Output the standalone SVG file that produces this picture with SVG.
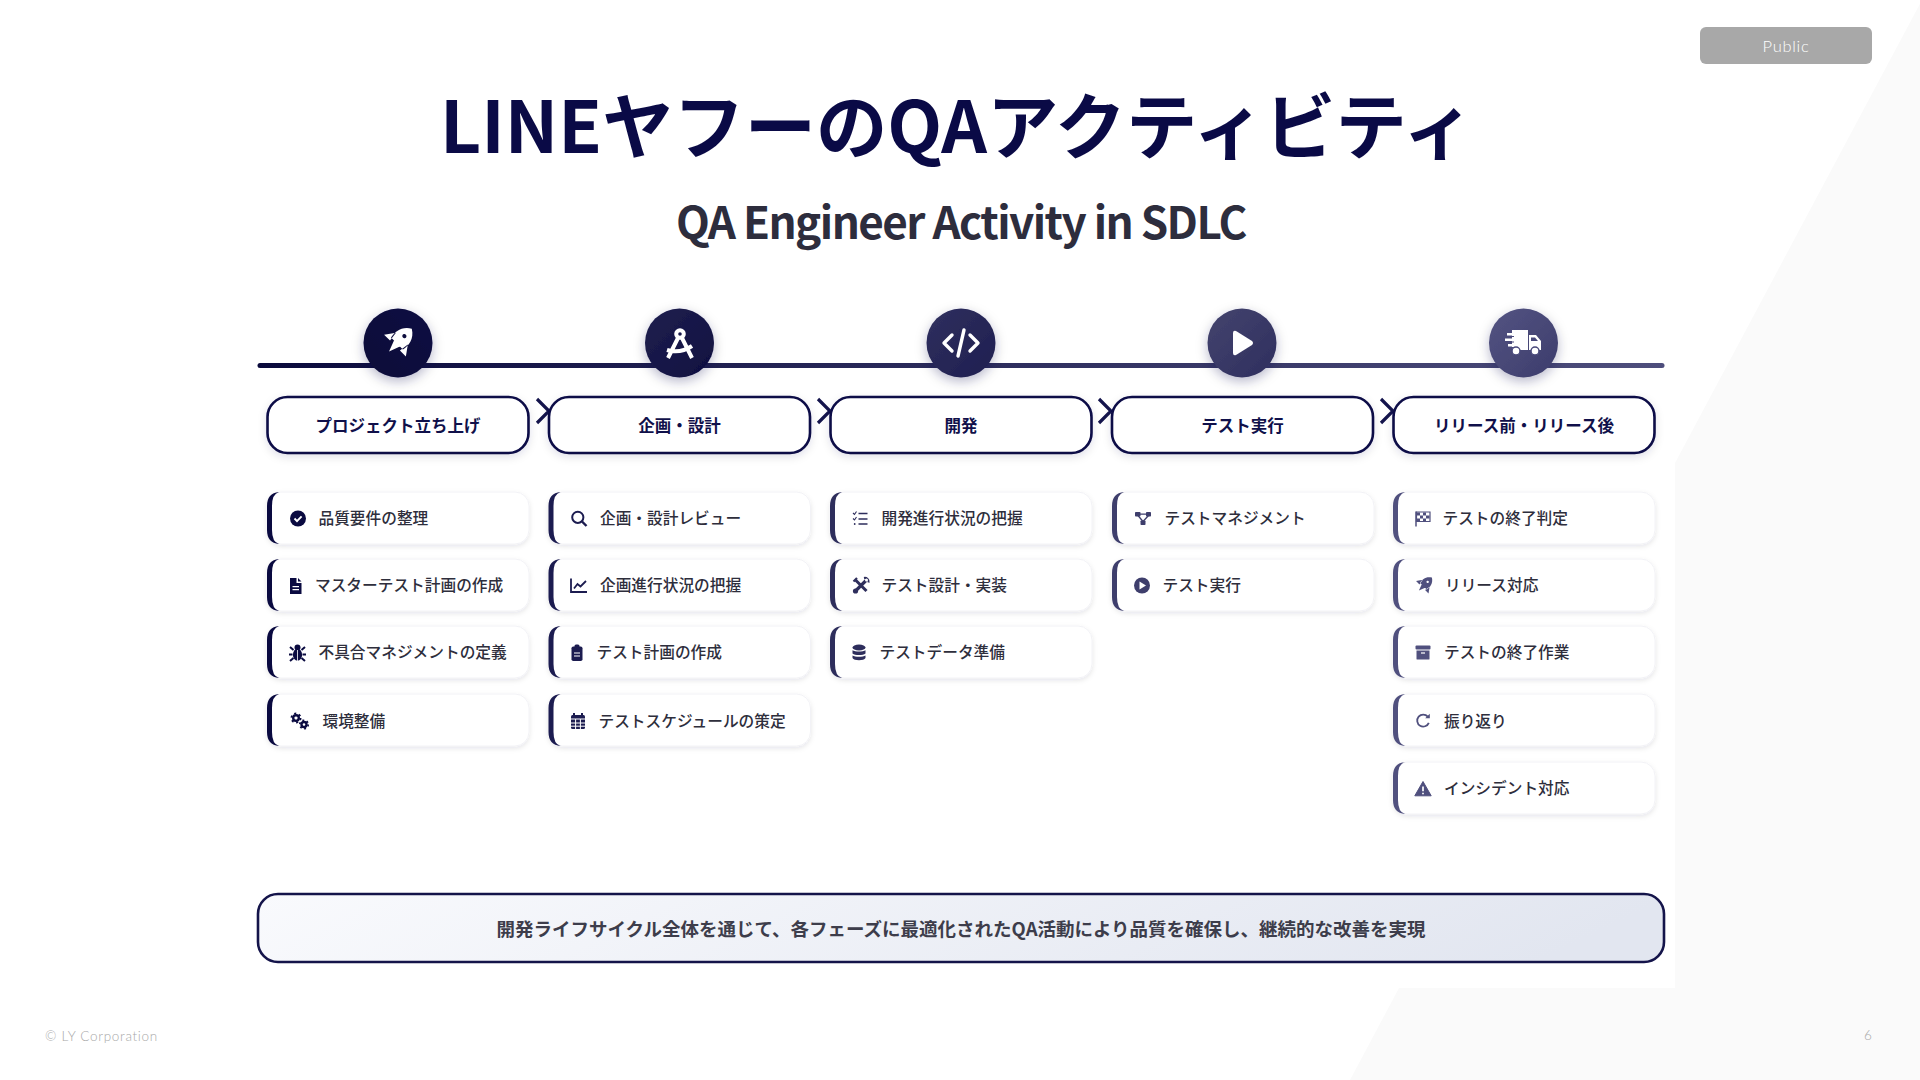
<svg xmlns="http://www.w3.org/2000/svg" width="1920" height="1080" viewBox="0 0 1920 1080">
<style>
text{font-family:"Noto Sans CJK JP","Noto Sans",sans-serif}
.title{font-size:71.300px;font-weight:700;fill:#0a0a46;text-anchor:middle}
.sub{font-size:44px;font-weight:700;fill:#2d2d3d;text-anchor:middle;letter-spacing:-1.550px}
.hd{fill:#fff;stroke:#0a0a46;stroke-width:2.600;filter:url(#sh)}
.hdt{font-size:16.500px;font-weight:700;fill:#10104a;text-anchor:middle}
.card{fill:#fff;stroke:#f2f2f6;stroke-width:1;filter:url(#sh2)}
.it{font-size:15.700px;font-weight:500;fill:#2e2e3c}
.chev{fill:none;stroke:#14144c;stroke-width:3.200}
.c1{color:#0a0a40}.c2{color:#1c1c50}.c3{color:#2e2e5c}.c4{color:#3e3e6c}.c5{color:#50507e}
.circ{filter:url(#sh3)}
.bg{fill:#fafafa}
.foot{font-family:"Lato","Noto Sans",sans-serif;font-size:13.500px;font-weight:300;fill:#a8a8a8;letter-spacing:.7px}
</style>
<defs>
<linearGradient id="ln" gradientUnits="userSpaceOnUse" x1="258" x2="1664" y1="0" y2="0"><stop offset="0" stop-color="#0a0a3c"/><stop offset="1" stop-color="#4e4e7c"/></linearGradient>
<linearGradient id="g1" x1="0" y1="1" x2="1" y2="0"><stop offset="0" stop-color="#0a0a38"/><stop offset="1" stop-color="#0c0c42"/></linearGradient>
<linearGradient id="g2" x1="0" y1="0" x2="1" y2="1"><stop offset="0" stop-color="#20204f"/><stop offset="1" stop-color="#0e0e40"/></linearGradient>
<linearGradient id="g3" x1="0" y1="0" x2="1" y2="1"><stop offset="0" stop-color="#30305e"/><stop offset="1" stop-color="#1e1e50"/></linearGradient>
<linearGradient id="g4" x1="0" y1="0" x2="1" y2="1"><stop offset="0" stop-color="#44446e"/><stop offset="1" stop-color="#2e2e5e"/></linearGradient>
<linearGradient id="g5" x1="0" y1="0" x2="1" y2="1"><stop offset="0" stop-color="#545482"/><stop offset="1" stop-color="#3c3c6c"/></linearGradient>
<linearGradient id="sm" x1="0" y1="0" x2="1" y2="0.1"><stop offset="0" stop-color="#f9fafd"/><stop offset="1" stop-color="#e2e6f0"/></linearGradient>
<filter id="sh" x="-10%" y="-30%" width="120%" height="170%"><feDropShadow dx="0" dy="3" stdDeviation="4" flood-color="#0a0a46" flood-opacity=".12"/></filter>
<filter id="sh2" x="-10%" y="-30%" width="120%" height="170%"><feDropShadow dx="0" dy="2" stdDeviation="2.500" flood-color="#20203c" flood-opacity=".1"/></filter>
<filter id="sh3" x="-40%" y="-40%" width="180%" height="190%"><feDropShadow dx="0" dy="4" stdDeviation="6" flood-color="#0a0a46" flood-opacity=".28"/></filter>
<path id="bar" fill="currentColor" d="M12 0Q0 1 0 14V38Q0 51 12 52Q5 50 5 38V14Q5 2 12 0Z"/>
<g id="i-rocket" fill="currentColor"><path transform="translate(1.100 -1.100) rotate(45) scale(.8)" fill-rule="evenodd" d="M0-12C6.500-8 7-2 6 3H-6C-7-2-6.500-8 0-12ZM0-6a1.500 1.500 0 1 0 .01 0ZM-6-2L-11 5-5 5ZM6-2L11 5 5 5ZM-3 3H3L0 11Z"/></g>
<g id="i-check"><circle r="8" fill="currentColor"/><path d="M-3.500 0L-1 2.600 3.600-2.200" fill="none" stroke="#fff" stroke-width="1.900"/></g>
<g id="i-search" fill="none" stroke="currentColor" stroke-width="2"><circle cx="-1.200" cy="-1.200" r="5.600"/><path d="M3 3L7.500 7.500" stroke-width="2.400"/></g>
<path id="i-doc" fill="currentColor" fill-rule="evenodd" d="M-6-8H0.500L0.500-3H5.500V8H-6ZM2-8L5.500-4.500H2ZM-3.500 0V1.300H3V0ZM-3.500 3V4.300H3V3Z"/>
<g id="i-chart" fill="none" stroke="currentColor" stroke-width="1.800"><path d="M-8-7V6.500H8"/><path d="M-5 3L-1.500-1.500 1.500 1 7-4.500"/></g>
<g id="i-bug" fill="currentColor"><ellipse cy="1.800" rx="4.600" ry="6"/><circle cy="-5.500" r="3"/><path d="M-4-3L-7.500-6M4-3L7.500-6M-5 1.500H-8.500M5 1.500H8.500M-4 5L-7.500 8M4 5L7.500 8" stroke="currentColor" stroke-width="2" fill="none"/><path d="M0-3V8" stroke="#fff" stroke-width=".8"/></g>
<g id="i-clip"><rect x="-5.500" y="-6.500" width="11" height="14.500" rx="1.800" fill="currentColor"/><rect x="-2.500" y="-8.500" width="5" height="4" rx="1.500" fill="currentColor"/><path d="M-3 0H3M-3 3H3" stroke="#fff" stroke-width="1.100"/></g>
<g id="i-cal"><rect x="-7" y="-6" width="14" height="14" rx="1.500" fill="currentColor"/><path d="M-4-8V-4M4-8V-4" stroke="currentColor" stroke-width="2"/><path d="M-7-2H7M-7 2H7M-7 5.200H7M-2.400-2V8M2.400-2V8" stroke="#fff" stroke-width="1"/></g>
<g id="i-gears" fill="none" stroke="currentColor"><g transform="translate(-3.500 -3)"><circle r="2.800" stroke-width="2.400"/><circle r="4.600" stroke-width="1.800" stroke-dasharray="2.100 2.720"/></g><g transform="translate(4.500 3.500)"><circle r="2.500" stroke-width="2.400"/><circle r="4.200" stroke-width="1.700" stroke-dasharray="1.900 2.500"/></g></g>
<g id="i-list" fill="none" stroke="currentColor"><path d="M-2 -5H7M-2 0.500H7M-2 5.500H7" stroke-width="1.600"/><path d="M-7.500-5.500L-6-4-4-7M-7.500 0L-6 1.500-4-1.500" stroke-width="1.100"/><circle cx="-5.800" cy="5.500" r=".9" fill="currentColor" stroke="none"/></g>
<g id="i-tools" stroke="currentColor" fill="none"><path d="M-5.500-5.500L5.500 5.500" stroke-width="3"/><path d="M5-5L-5 5" stroke-width="3.200"/><path d="M-7.500-4L-4-7.500M3-7.500A3.800 3.800 0 0 1 7.500-3" stroke-width="2.200"/><circle cx="-5.500" cy="5.500" r="2.600" fill="currentColor" stroke="none"/><circle cx="5.500" cy="-5.500" r="1.500" fill="#fff" stroke="none"/></g>
<g id="i-db" fill="currentColor"><ellipse cy="-5" rx="6.500" ry="3"/><path d="M-6.500-2.200C-4-.5 4-.5 6.500-2.200V1C4 3 -4 3 -6.500 1ZM-6.500 3C-4 4.800 4 4.800 6.500 3V5.500C5 8.500 -5 8.500 -6.500 5.500Z"/></g>
<g id="i-net" fill="currentColor"><rect x="-8" y="-6.500" width="5.500" height="4.500" rx=".8"/><rect x="3" y="-6.500" width="5" height="4.500" rx=".8"/><rect x="-2.500" y="2" width="5" height="4.500" rx=".8"/><path d="M-3-4.300H4M-5-3L0 3M5.500-3L0 3" stroke="currentColor" stroke-width="1.300" fill="none"/></g>
<g id="i-playc"><circle r="8" fill="currentColor"/><path d="M-2.500-4L4 0-2.500 4Z" fill="#fff"/></g>
<g id="i-flag"><path d="M-7-7V8" stroke="currentColor" stroke-width="1.500"/><path d="M-6.500-6.500H7V3H-6.500Z" fill="#fff" stroke="currentColor" stroke-width="1.200"/><path d="M-6-6H-3V-3H-6ZM0-6H3V-3H0ZM-3-3H0V0H-3ZM3-3H6.500V0H3ZM-6 0H-3V2.500H-6ZM0 0H3V2.500H0Z" fill="currentColor"/></g>
<g id="i-arch" fill="currentColor"><rect x="-7.500" y="-7" width="15" height="4" rx="1"/><path d="M-6.500-2H6.500V6.500Q6.500 7 5.500 7H-5.500Q-6.500 7-6.500 6.500Z"/><path d="M-2 .5H2" stroke="#fff" stroke-width="1.200"/></g>
<g id="i-redo" fill="none" stroke="currentColor" stroke-width="1.800"><path d="M4.800-4.300A6 6 0 1 0 5.800 1.800"/><path d="M6.800-7.200V-2.800H2.200Z" fill="currentColor" stroke="none"/></g>
<g id="i-warn"><path d="M0-7.500L8.200 6.800H-8.200Z" fill="currentColor" stroke="currentColor" stroke-width="1" stroke-linejoin="round"/><path d="M0-2.500V2.300M0 3.800V5.200" stroke="#fff" stroke-width="1.700"/></g>
</defs>
<rect width="1920" height="1080" fill="#fff"/>
<polygon class="bg" points="1922,0 1675,463 1675,988 1399,988 1350,1080 1920,1080"/>
<g id="badge"><rect x="1700" y="27" width="172" height="37" rx="6" fill="#a8a8a8"/><text x="1786" y="52" text-anchor="middle" style="font-family:Lato,'Noto Sans',sans-serif;font-size:16.500px;font-weight:300;fill:#fff;letter-spacing:.7px">Public</text></g>
<text id="title" class="title" x="957" y="153">LINEヤフーのQAアクティビティ</text>
<text id="subtitle" class="sub" x="961" y="239">QA Engineer Activity in SDLC</text>
<g id="connectors">
<line x1="260" y1="365.500" x2="1662" y2="365.500" stroke="url(#ln)" stroke-width="5" stroke-linecap="round"/>
<path class="chev" d="M537 399L549 411 537 423"/>
<path class="chev" d="M818 399L830 411 818 423"/>
<path class="chev" d="M1099 399L1111 411 1099 423"/>
<path class="chev" d="M1381 399L1393 411 1381 423"/>
</g>
<g id="step-1" class="c1"><circle class="circ" cx="398" cy="343" r="34.500" fill="url(#g1)"/><g transform="translate(398 342.500) scale(1.750)" color="#fff"><use href="#i-rocket"/></g></g>
<g id="step-2" class="c2"><circle class="circ" cx="679.500" cy="343" r="34.500" fill="url(#g2)"/><g fill="none" stroke="#fff" stroke-width="4"><circle cx="680" cy="334" r="3.800"/><path d="M678 338L668 358M682 338L692 358M667 350Q680 354 692 346"/></g></g>
<g id="step-3" class="c3"><circle class="circ" cx="961" cy="343" r="34.500" fill="url(#g3)"/><path d="M952 335L944 343 952 351M970 335L978 343 970 351M964 330L958 356" fill="none" stroke="#fff" stroke-width="3.400" stroke-linecap="round" stroke-linejoin="round"/></g>
<g id="step-4" class="c4"><circle class="circ" cx="1242" cy="343" r="34.500" fill="url(#g4)"/><path d="M1233 333Q1233 330 1236 331L1252 341Q1254 343 1252 345L1236 355Q1233 356 1233 353Z" fill="#fff"/></g>
<g id="step-5" class="c5"><circle class="circ" cx="1523.500" cy="343" r="34.500" fill="url(#g5)"/><g fill="#fff"><path d="M1512 330H1528V350H1516Q1513 344 1512 350Z"/><path d="M1507 333H1516V335.500H1507ZM1505 338.500H1516V341H1505ZM1508 344H1516V346.500H1508Z"/><path d="M1529 335H1536L1541 341V350H1539Q1535 344 1531 350H1529Z"/></g><path d="M1507 336.500H1514M1505 342H1514M1508 347.500H1514" stroke="#48487a" stroke-width="1"/><path d="M1531 337.500H1535L1538 341H1531Z" fill="#48487a"/><circle cx="1516" cy="351" r="4" fill="#fff" stroke="#48487a" stroke-width="1.500"/><circle cx="1535" cy="351" r="4" fill="#fff" stroke="#48487a" stroke-width="1.500"/></g>
<g id="head-1"><rect class="hd" x="267.500" y="397" width="261" height="56" rx="20"/><text class="hdt" x="398" y="431.500">プロジェクト立ち上げ</text></g>
<g id="head-2"><rect class="hd" x="549" y="397" width="261" height="56" rx="20"/><text class="hdt" x="679.500" y="431.500">企画・設計</text></g>
<g id="head-3"><rect class="hd" x="830.500" y="397" width="261" height="56" rx="20"/><text class="hdt" x="961" y="431.500">開発</text></g>
<g id="head-4"><rect class="hd" x="1112" y="397" width="261" height="56" rx="20"/><text class="hdt" x="1242.500" y="431.500">テスト実行</text></g>
<g id="head-5"><rect class="hd" x="1393.500" y="397" width="261" height="56" rx="20"/><text class="hdt" x="1524" y="431.500">リリース前・リリース後</text></g>

<g id="a1" class="c1"><rect class="card" x="267" y="492" width="262" height="52" rx="14"/><use href="#bar" x="267" y="492"/><use href="#i-check" x="298" y="518.500"/><text class="it" x="318.500" y="524">品質要件の整理</text></g>
<g id="a2" class="c1"><rect class="card" x="267" y="559" width="262" height="52" rx="14"/><use href="#bar" x="267" y="559"/><use href="#i-doc" x="296" y="586"/><text class="it" x="315" y="591">マスターテスト計画の作成</text></g>
<g id="a3" class="c1"><rect class="card" x="267" y="626" width="262" height="52" rx="14"/><use href="#bar" x="267" y="626"/><use href="#i-bug" x="297.500" y="653"/><text class="it" x="318.500" y="658">不具合マネジメントの定義</text></g>
<g id="a4" class="c1"><rect class="card" x="267" y="694" width="262" height="52" rx="14"/><use href="#bar" x="267" y="694"/><use href="#i-gears" x="299.500" y="721"/><text class="it" x="322.500" y="727">環境整備</text></g>

<g id="b1" class="c2"><rect class="card" x="548.500" y="492" width="262" height="52" rx="14"/><use href="#bar" x="548.500" y="492"/><use href="#i-search" x="579" y="518.500"/><text class="it" x="600" y="524">企画・設計レビュー</text></g>
<g id="b2" class="c2"><rect class="card" x="548.500" y="559" width="262" height="52" rx="14"/><use href="#bar" x="548.500" y="559"/><use href="#i-chart" x="579" y="585.500"/><text class="it" x="600" y="591">企画進行状況の把握</text></g>
<g id="b3" class="c2"><rect class="card" x="548.500" y="626" width="262" height="52" rx="14"/><use href="#bar" x="548.500" y="626"/><use href="#i-clip" x="577" y="653"/><text class="it" x="596.500" y="658">テスト計画の作成</text></g>
<g id="b4" class="c2"><rect class="card" x="548.500" y="694" width="262" height="52" rx="14"/><use href="#bar" x="548.500" y="694"/><use href="#i-cal" x="578" y="721"/><text class="it" x="598.500" y="727">テストスケジュールの策定</text></g>

<g id="c1" class="c3"><rect class="card" x="830" y="492" width="262" height="52" rx="14"/><use href="#bar" x="830" y="492"/><use href="#i-list" x="860.500" y="518.500"/><text class="it" x="881.500" y="524">開発進行状況の把握</text></g>
<g id="c2" class="c3"><rect class="card" x="830" y="559" width="262" height="52" rx="14"/><use href="#bar" x="830" y="559"/><use href="#i-tools" x="861" y="585.500"/><text class="it" x="881.500" y="591">テスト設計・実装</text></g>
<g id="c3" class="c3"><rect class="card" x="830" y="626" width="262" height="52" rx="14"/><use href="#bar" x="830" y="626"/><use href="#i-db" x="859" y="652.500"/><text class="it" x="879.500" y="658">テストデータ準備</text></g>

<g id="d1" class="c4"><rect class="card" x="1112" y="492" width="262" height="52" rx="14"/><use href="#bar" x="1112" y="492"/><use href="#i-net" x="1143" y="518.500"/><text class="it" x="1164.500" y="524">テストマネジメント</text></g>
<g id="d2" class="c4"><rect class="card" x="1112" y="559" width="262" height="52" rx="14"/><use href="#bar" x="1112" y="559"/><use href="#i-playc" x="1142" y="585.500"/><text class="it" x="1162.500" y="591">テスト実行</text></g>

<g id="e1" class="c5"><rect class="card" x="1393" y="492" width="262" height="52" rx="14"/><use href="#bar" x="1393" y="492"/><use href="#i-flag" x="1423" y="518.500"/><text class="it" x="1442.500" y="524">テストの終了判定</text></g>
<g id="e2" class="c5"><rect class="card" x="1393" y="559" width="262" height="52" rx="14"/><use href="#bar" x="1393" y="559"/><use href="#i-rocket" x="1424" y="585.500"/><text class="it" x="1445" y="591">リリース対応</text></g>
<g id="e3" class="c5"><rect class="card" x="1393" y="626" width="262" height="52" rx="14"/><use href="#bar" x="1393" y="626"/><use href="#i-arch" x="1423" y="652.500"/><text class="it" x="1444" y="658">テストの終了作業</text></g>
<g id="e4" class="c5"><rect class="card" x="1393" y="694" width="262" height="52" rx="14"/><use href="#bar" x="1393" y="694"/><use href="#i-redo" x="1423" y="721"/><text class="it" x="1444" y="727">振り返り</text></g>
<g id="e5" class="c5"><rect class="card" x="1393" y="762" width="262" height="52" rx="14"/><use href="#bar" x="1393" y="762"/><use href="#i-warn" x="1423" y="789"/><text class="it" x="1444" y="794">インシデント対応</text></g>

<g id="summary"><rect x="258" y="894" width="1406" height="68" rx="20" fill="url(#sm)" stroke="#14144a" stroke-width="2.600"/><text x="961" y="935.500" text-anchor="middle" style="font-size:18.500px;font-weight:700;fill:#3d3d4b">開発ライフサイクル全体を通じて、各フェーズに最適化されたQA活動により品質を確保し、継続的な改善を実現</text></g>
<text id="copyright" class="foot" x="45" y="1041">© LY Corporation</text>
<text id="page" class="foot" x="1864" y="1040">6</text>
</svg>
